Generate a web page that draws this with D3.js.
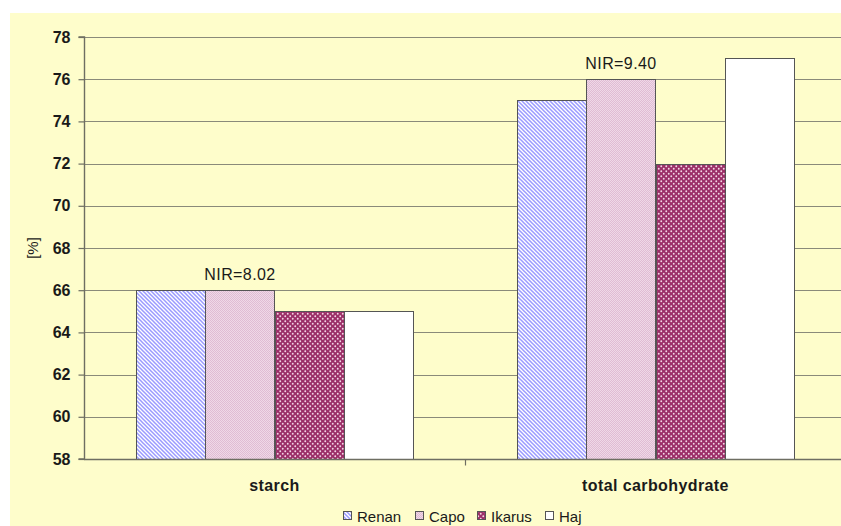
<!DOCTYPE html>
<html>
<head>
<meta charset="utf-8">
<script src="https://cdn.jsdelivr.net/npm/d3@7"></script>
<style>
  html, body { margin: 0; padding: 0; background: #ffffff; }
  svg { display: block; }
  text { font-family: Arial, "Liberation Sans", sans-serif; fill: #1a1a1a; }
</style>
</head>
<body>
<svg id="chart" width="841" height="526"></svg>
<script>
// Carbohydrate content of wheat varieties, percent of dry matter
const categories = ["starch", "total carbohydrate"];
const varieties = ["Renan", "Capo", "Ikarus", "Haj"];
const starch = [66, 66, 65, 65];
const totalCarbohydrate = [75, 76, 72, 77];
const nirLabels = ["NIR=8.02", "NIR=9.40"];
const yTicks = [58, 60, 62, 64, 66, 68, 70, 72, 74, 76, 78];

const seriesByCategory = [starch, totalCarbohydrate];

const W = 841, H = 526;
const margin = { left: 84, top: 37, bottom: 67 };
const plotRight = 846;

const svg = d3.select("#chart");

// fill patterns for the four varieties
const defs = svg.append("defs");

const pRenan = defs.append("pattern").attr("id", "p-renan")
  .attr("patternUnits", "userSpaceOnUse").attr("width", 4).attr("height", 4);
pRenan.append("rect").attr("width", 4).attr("height", 4).attr("fill", "#ffffff");
pRenan.append("path").attr("d", "M-1,-1 L5,5 M-1,3 L1,5 M3,-1 L5,1")
  .attr("stroke", "#9a9aff").attr("stroke-width", 1.5);

// fine pink dot screen; 4x4 tile keeps it even at any bar offset
const pCapo = defs.append("pattern").attr("id", "p-capo")
  .attr("patternUnits", "userSpaceOnUse").attr("width", 4).attr("height", 4)
  .attr("shape-rendering", "crispEdges");
pCapo.append("rect").attr("width", 4).attr("height", 4).attr("fill", "#efd9e7");
[[0, 0], [2, 0], [1, 1], [3, 1], [0, 2], [2, 2], [1, 3], [3, 3]].forEach(([px, py]) =>
  pCapo.append("rect").attr("x", px).attr("y", py).attr("width", 1).attr("height", 1)
    .attr("fill", "#e0bcd4"));

const pIkarus = defs.append("pattern").attr("id", "p-ikarus")
  .attr("patternUnits", "userSpaceOnUse").attr("width", 5).attr("height", 5);
pIkarus.append("rect").attr("width", 5).attr("height", 5).attr("fill", "#9b2f68");
pIkarus.append("circle").attr("cx", 1.25).attr("cy", 1.25).attr("r", 0.95).attr("fill", "#f4d6e6");
pIkarus.append("circle").attr("cx", 3.75).attr("cy", 3.75).attr("r", 0.95).attr("fill", "#f4d6e6");

const fills = {
  Renan: "url(#p-renan)",
  Capo: "url(#p-capo)",
  Ikarus: "url(#p-ikarus)",
  Haj: "#ffffff"
};

// chart area background
svg.append("rect").attr("x", 10).attr("y", 13).attr("width", W - 10).attr("height", H - 13)
  .attr("fill", "#fefdcb");

const y = d3.scaleLinear().domain([58, 78]).range([H - margin.bottom, margin.top]);
const x0 = d3.scaleBand().domain(categories).range([margin.left, plotRight]).paddingInner(0).paddingOuter(0);
const x1 = d3.scaleBand().domain(varieties).range([0, x0.bandwidth()]).paddingOuter(0.76).paddingInner(0);

// horizontal gridlines
svg.append("g")
  .selectAll("line").data(yTicks.slice(1)).join("line")
  .attr("x1", margin.left).attr("x2", W)
  .attr("y1", d => Math.round(y(d)) + 0.5).attr("y2", d => Math.round(y(d)) + 0.5)
  .attr("stroke", "#8a8a7a").attr("stroke-width", 1.2);

// bars
const groups = svg.append("g").selectAll("g").data(categories).join("g")
  .attr("transform", d => `translate(${Math.round(x0(d))},0)`);

groups.selectAll("rect")
  .data((c, i) => varieties.map((v, j) => ({ v, value: seriesByCategory[i][j] })))
  .join("rect")
  .attr("x", d => Math.round(x1(d.v)) + 0.5)
  .attr("y", d => Math.round(y(d.value)) + 0.5)
  .attr("width", Math.round(x1.bandwidth()))
  .attr("height", d => Math.round(y(58)) - Math.round(y(d.value)))
  .attr("fill", d => fills[d.v])
  .attr("stroke", "#555555").attr("stroke-width", 1);

// NIR labels above the second bar of each group
groups.append("text")
  .attr("x", x1("Capo") + x1.bandwidth() / 2)
  .attr("y", (c, i) => y(seriesByCategory[i][1]) - 10)
  .attr("text-anchor", "middle")
  .attr("font-size", 16).attr("letter-spacing", 0.4)
  .text((c, i) => nirLabels[i]);

// y axis
const yAxis = d3.axisLeft(y).tickValues(yTicks).tickSize(6).tickPadding(8).tickFormat(d3.format("d"));
const gy = svg.append("g").attr("transform", `translate(${margin.left + 0.5},0)`).call(yAxis);
gy.select(".domain").attr("stroke", "#6e6e62").attr("stroke-width", 1.4).attr("d", `M-6,${y(78)}H0V${y(58)}H-6`);
gy.selectAll(".tick line").attr("stroke", "#6e6e62").attr("stroke-width", 1.2);
gy.selectAll(".tick text").attr("font-size", 16).attr("font-weight", "bold")
  .attr("font-family", "Arial, 'Liberation Sans', sans-serif").attr("fill", "#1a1a1a");

// x axis
const gx = svg.append("g").attr("transform", `translate(0,${y(58) + 0.5})`);
gx.append("line").attr("x1", margin.left).attr("x2", W).attr("y1", 0).attr("y2", 0)
  .attr("stroke", "#6e6e62").attr("stroke-width", 1.4);
gx.selectAll("line.sep").data(categories.slice(1)).join("line").attr("class", "sep")
  .attr("x1", d => Math.round(x0(d)) + 0.5).attr("x2", d => Math.round(x0(d)) + 0.5)
  .attr("y1", 0).attr("y2", 6).attr("stroke", "#6e6e62").attr("stroke-width", 1.2);
gx.selectAll("text").data(categories).join("text")
  .attr("x", d => x0(d) + x0.bandwidth() / 2)
  .attr("y", 31)
  .attr("text-anchor", "middle")
  .attr("font-size", 16).attr("font-weight", "bold").attr("letter-spacing", 0.4)
  .text(d => d);

// y axis title
svg.append("text")
  .attr("transform", `translate(38,${(y(58) + y(78)) / 2}) rotate(-90)`)
  .attr("text-anchor", "middle")
  .attr("font-size", 15)
  .text("[%]");

// legend along the bottom edge
const legend = svg.append("g");
const legendX = [343, 415, 477, 545];
const items = legend.selectAll("g").data(varieties).join("g")
  .attr("transform", (d, i) => `translate(${legendX[i]},0)`);
items.append("rect").attr("x", 0.5).attr("y", 511.5).attr("width", 8).attr("height", 8)
  .attr("fill", d => fills[d]).attr("stroke", "#555555").attr("stroke-width", 1);
items.append("text").attr("x", 14).attr("y", 522).attr("font-size", 15).text(d => d);
</script>
</body>
</html>
